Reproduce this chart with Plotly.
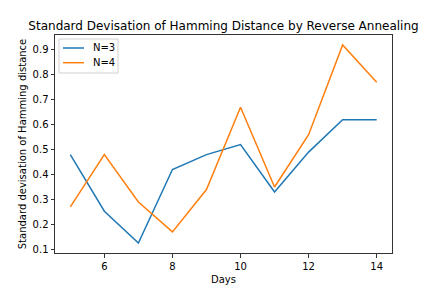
import plotly.graph_objects as go

days = [5, 6, 7, 8, 9, 10, 11, 12, 13, 14]
n3 = [0.48, 0.253, 0.125, 0.42, 0.48, 0.52, 0.33, 0.49, 0.62, 0.62]
n4 = [0.27, 0.48, 0.29, 0.17, 0.34, 0.67, 0.35, 0.56, 0.92, 0.77]
x_ticks = [6, 8, 10, 12, 14]
y_ticks = [0.1, 0.2, 0.3, 0.4, 0.5, 0.6, 0.7, 0.8, 0.9]
series_names = ["N=3", "N=4"]
series_colors = ["#1f77b4", "#ff7f0e"]

font = "DejaVu Sans"
W, H = 436, 291
L, R, T, B = 55, 44, 35, 38
PW, PH = W - L - R, H - T - B

fig = go.Figure()
for name, vals, col in zip(series_names, [n3, n4], series_colors):
    fig.add_trace(go.Scatter(x=days, y=vals, mode="lines", name=name,
                             line=dict(color=col, width=1.5), showlegend=False))

axis_common = dict(showgrid=False, zeroline=False, showline=True, mirror=True,
                   linecolor="#333333", linewidth=1, ticks="outside", ticklen=3.5,
                   tickwidth=0.8, tickcolor="#333333", automargin=False,
                   tickfont=dict(family=font, size=10, color="black"))

# manual matplotlib-like legend (layout decoration, paper coords)
def px(x):
    return (x - L) / PW

def py(y):
    return (H - B - y) / PH

shapes = [dict(type="rect", xref="paper", yref="paper",
               x0=px(59), x1=px(118), y0=py(73), y1=py(39),
               line=dict(color="#d0d0d0", width=1), fillcolor="rgba(255,255,255,0.8)",
               layer="above")]
annotations = []
for i, (name, col) in enumerate(zip(series_names, series_colors)):
    yy = 48 + i * 14.7
    shapes.append(dict(type="line", xref="paper", yref="paper",
                       x0=px(63), x1=px(84), y0=py(yy), y1=py(yy),
                       line=dict(color=col, width=1.5), layer="above"))
    annotations.append(dict(text=name, xref="paper", yref="paper",
                            x=px(91), y=py(yy), xanchor="left", yanchor="middle",
                            showarrow=False,
                            font=dict(family=font, size=10, color="black")))

fig.update_layout(
    width=W, height=H,
    margin=dict(l=L, r=R, t=T, b=B),
    paper_bgcolor="white", plot_bgcolor="white",
    title=dict(text="Standard Devisation of Hamming Distance by Reverse Annealing",
               font=dict(family=font, size=12, color="black"),
               x=(L + L + PW) / 2 / W, xanchor="center", y=1 - 25.5 / H, yanchor="middle"),
    xaxis=dict(range=[4.55, 14.45], tickvals=x_ticks,
               title=dict(text="Days", font=dict(family=font, size=10, color="black"), standoff=5),
               **axis_common),
    yaxis=dict(range=[0.0853, 0.9597], tickvals=y_ticks, tickformat=".1f",
               title=dict(text="Standard devisation of Hamming distance",
                          font=dict(family=font, size=10, color="black"), standoff=4),
               **axis_common),
    shapes=shapes,
    annotations=annotations,
    showlegend=False,
)

fig.write_html("out.html", config={"displayModeBar": False},
               post_script="document.body.style.margin='0';document.body.style.overflow='hidden';")
